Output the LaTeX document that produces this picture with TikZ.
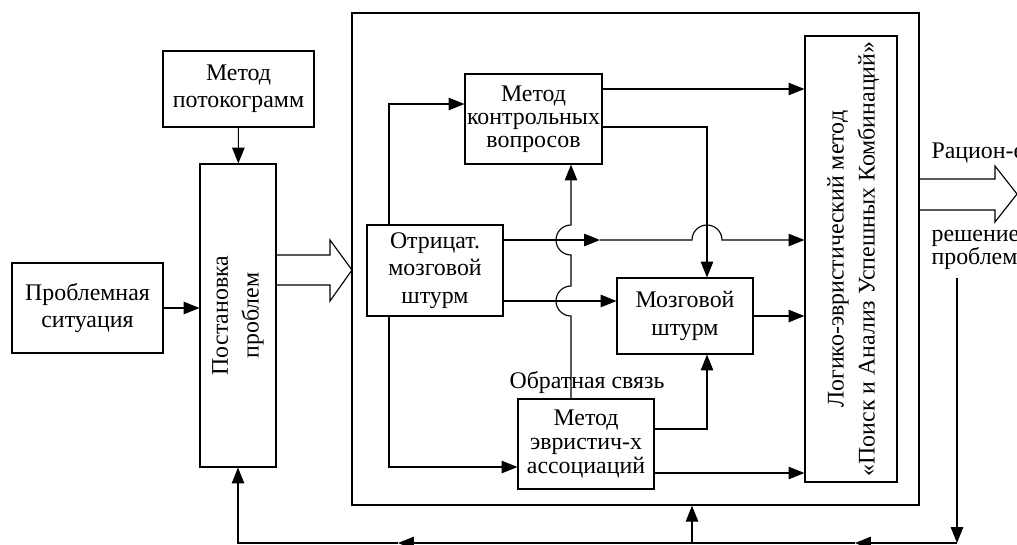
\documentclass[tikz,border=0pt]{standalone}
\usepackage{fontspec}
\setmainfont{Liberation Serif}
\usetikzlibrary{arrows.meta,calc}

\tikzset{
	txt/.style={font=\fontsize{10.5}{12}\selectfont},
	block/.style={draw, txt, align=center, inner sep=0pt},
	vtext/.style={rotate=90, align=center, font=\fontsize{10.5}{13.6}\selectfont}
}

\begin{document}
\begin{tikzpicture}[x=0.44pt, y=-0.44pt, line width=0.5pt,
	>={Triangle[length=7pt,width=5.5pt]}]
	\useasboundingbox (0,0) rectangle (1017,544);
	\clip (0,0) rectangle (1017,544);

	\node[block, minimum width=66.4pt, minimum height=39.6pt] (sit) at (87.5,308) {Проблемная\\ситуация};
	\node[block, minimum width=66.4pt, minimum height=33.4pt] (flow) at (238.5,89) {Метод\\потокограмм};
	\node[block, minimum width=33.4pt, minimum height=133.3pt] (post) at (238,315.5) {};
	\node[vtext] (posttxt) at (post.center) {Постановка\\проблем};

	\node[draw, line width=0.6pt, minimum width=249.5pt, minimum height=216.5pt] (big) at (635.5,259) {};
	\node[block, minimum width=60.3pt, minimum height=39.6pt] (ctrl) at (533.5,119) {Метод\\[-2pt]контрольных\\[-2pt]вопросов};
	\node[block, minimum width=59.8pt, minimum height=40pt] (neg) at (435,270.5) {Отрицат.\\мозговой\\штурм};
	\node[block, minimum width=59.8pt, minimum height=33.4pt] (brain) at (685,316) {Мозговой\\штурм};
	\node[block, minimum width=59.8pt, minimum height=39.6pt] (heur) at (586,444) {Метод\\[-1.5pt]эвристич-х\\[-1.5pt]ассоциаций};
	\node[block, minimum width=40.5pt, minimum height=196.2pt] (logic) at (851,259) {};
	\node[vtext] (logictxt) at ([xshift=1pt]logic.center) {Логико-эвристический метод\\«Поиск и Анализ Успешных Комбинаций»};
	\node[txt] (fb) at (587,382) {Обратная связь};

	\node[txt, anchor=west, inner sep=0pt] (rat) at (931,153) {Рацион-е};
	\node[txt, anchor=west, align=left, inner sep=0pt] (sol) at (931,250) {решение\\[-2pt]проблем};

	% inputs
	\draw[->] (flow) -- (post);
	\draw[->] (sit.east) -- (post.west |- sit.east);
	\draw (276,255) -- (330,255) -- (330,240) -- (352,270) -- (330,301) -- (330,285) -- (276,285);

	% inside the big box
	\coordinate (a1) at (389,104);
	\coordinate (a2) at (389,467);
	\coordinate (a3) at (0,89);
	\coordinate (a4) at (707,127);
	\coordinate (a5) at (707,429);
	\coordinate (a6) at (0,473);
	\coordinate (r1) at (0,240);
	\coordinate (r2) at (0,301);
	\coordinate (hx) at (571,0);
	\coordinate (m1) at (600,240);

	\draw[->] (neg.north -| a1) |- (ctrl.west |- a1);
	\draw[->] (neg.south -| a2) |- (heur.west |- a2);
	\draw[->] (ctrl.east |- a3) -- (logic.west |- a3);
	\draw[->] (ctrl.east |- a4) -| (brain.north -| a4);
	\draw[->] (heur.east |- a5) -| (brain.south -| a5);
	\draw[->] (heur.east |- a6) -- (logic.west |- a6);
	\draw[->] (brain.east) -- (logic.west |- brain.east);
	\draw[->] (neg.east |- r2) -- (brain.west |- r2);
	\draw[->] (neg.east |- r1) -- (m1);
	\draw[->] (m1) -- ($(a4 |- r1)+(-15,0)$) arc[start angle=180, end angle=0, radius=6.6pt] -- (logic.west |- r1);
	\draw[->] (heur.north -| hx) -- ($(hx |- r2)+(0,15)$) arc[start angle=-90, end angle=-270, radius=6.6pt]
		-- ($(hx |- r1)+(0,15)$) arc[start angle=-90, end angle=-270, radius=6.6pt] -- (ctrl.south -| hx);

	% output and feedback
	\draw (919,179) -- (995,179) -- (995,166) -- (1017,194) -- (995,222) -- (995,210) -- (919,210);
	\coordinate (fbtop) at (957,278);
	\coordinate (fbr) at (957,543);
	\coordinate (fbm1) at (855,543);
	\coordinate (fbm2) at (398,543);
	\coordinate (fbup) at (692,543);
	\draw[->] (fbtop) -- (fbr);
	\draw[->] (fbr) -- (fbm1);
	\draw[->] (fbm1) -- (fbm2);
	\draw[->] (fbm2) -| (post.south);
	\draw[->] (fbup) -- (big.south -| fbup);
\end{tikzpicture}
\end{document}
